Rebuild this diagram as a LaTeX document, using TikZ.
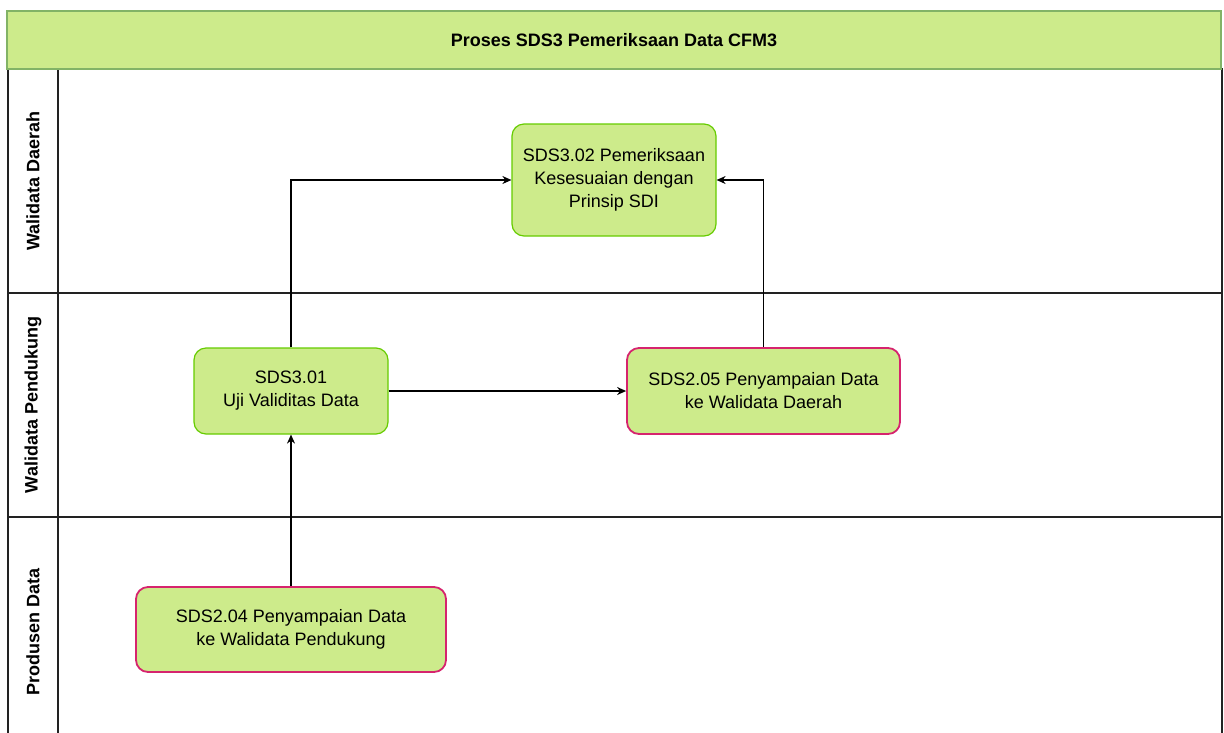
\documentclass[tikz,border=0pt]{standalone}
\usepackage{fontspec}
\setmainfont{Liberation Sans}
\usetikzlibrary{arrows.meta}

\definecolor{stepfill}{HTML}{CDEB8B}
\definecolor{stepline}{HTML}{66CC00}
\definecolor{handline}{HTML}{D6246E}
\definecolor{barline}{HTML}{82B366}
\definecolor{laneline}{HTML}{222222}

\begin{document}
\begin{tikzpicture}
          [x=1pt,y=-1pt,every node/.style={font=\fontsize{18}{23}\selectfont, align=center, inner sep=0pt},
           proc/.style={draw=stepline, fill=stepfill, rounded corners=12pt, line width=1.2pt},
           hand/.style={proc, draw=handline, line width=1.8pt},
           lanelabel/.style={rotate=90, font=\fontsize{18}{22}\selectfont\bfseries},
           lane/.style={draw=laneline, line width=2.6pt},
           flow/.style={-{Stealth[length=9pt,width=8pt]}, line width=1.2pt}]
        \useasboundingbox (0,0) rectangle (1224,732);
        \clip (0,0) rectangle (1224,732);

        % swimlanes
        \draw[lane, line width=1.8pt] (8,69) rectangle (1222,760);
        \draw[lane] (8,293) -- (1222,293);
        \draw[lane] (8,517) -- (1222,517);
        \draw[lane] (58,69) -- (58,760);
        \node[draw=barline, fill=stepfill, line width=1.6pt, minimum width=1214pt, minimum height=58pt,
              font=\fontsize{18}{22}\selectfont\bfseries] (title) at (614,40) {Proses SDS3 Pemeriksaan Data CFM3};

        \node[lanelabel] (wd) at (33,181) {Walidata Daerah};
        \node[lanelabel] (wp) at (33,405) {Walidata Pendukung};
        \node[lanelabel] (pd) at (33,632) {Produsen Data};

        % steps
        \node[proc, minimum width=204pt, minimum height=112pt] (n302) at (614,180) {SDS3.02 Pemeriksaan\\Kesesuaian dengan\\Prinsip SDI};
        \node[proc, minimum width=194pt, minimum height=86pt] (n301) at (291,391) {SDS3.01\\Uji Validitas Data};
        \node[hand, minimum width=273pt, minimum height=86pt] (n205) at (763.5,391) {SDS2.05 Penyampaian Data\\ke Walidata Daerah};
        \node[hand, minimum width=310pt, minimum height=85pt] (n204) at (291,629.5) {SDS2.04 Penyampaian Data\\ke Walidata Pendukung};

        \draw[flow] (n301.north) |- (n302.west);
        \draw[flow] (n205.north) |- (n302.east);
        \draw[flow] (n301.east) -- (n205.west);
        \draw[flow] (n204.north) -- (n301.south);
      \end{tikzpicture}
\end{document}
